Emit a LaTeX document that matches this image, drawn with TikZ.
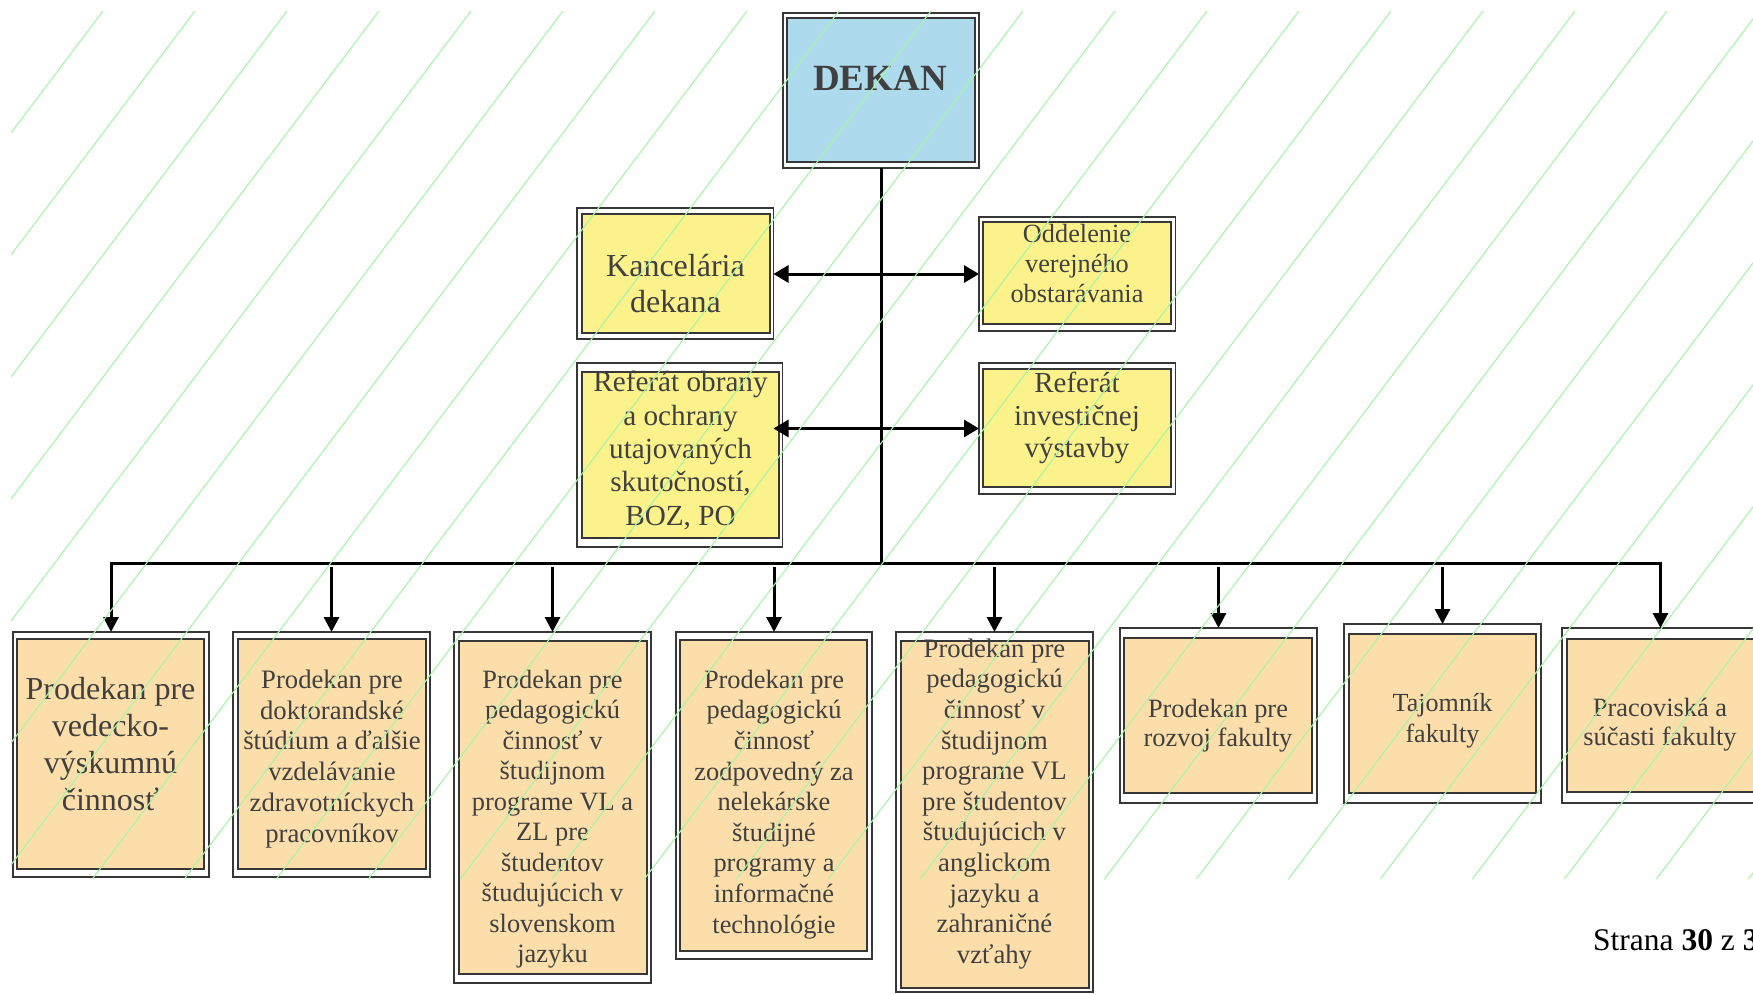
\documentclass[tikz,border=0pt]{standalone}
\usepackage{fontspec}
\setmainfont{Liberation Serif}
\usetikzlibrary{arrows.meta,fit,calc}

\definecolor{boxline}{RGB}{55,55,55}
\definecolor{txtgray}{RGB}{64,64,64}
\definecolor{deanblue}{RGB}{174,218,238}
\definecolor{officeyellow}{RGB}{252,242,140}
\definecolor{vicepeach}{RGB}{252,222,170}
\definecolor{hatchgreen}{RGB}{165,245,165}

\tikzset{
  outerbox/.style={draw=boxline, line width=1.5pt, fill=white, inner sep=0pt, outer sep=0pt},
  innerbox/.style={draw=boxline, line width=2pt, inner sep=0pt, outer sep=0pt},
  boxtext/.style={align=center, text=txtgray, inner sep=0pt},
  fs/.style 2 args={font={\fontsize{#1}{#2}\selectfont}},
  conn/.style={line width=3pt, black},
  downtip/.style={-{Triangle[length=15pt,width=15pt]}},
  bothtips/.style={{Triangle[length=15pt,width=17pt]}-{Triangle[length=15pt,width=17pt]}},
  cornertips/.style={{Triangle[length=15pt,width=15pt]}-{Triangle[length=15pt,width=15pt]}},
  hatch/.style={draw=hatchgreen, line width=1.1pt},
}

\begin{document}
\begin{tikzpicture}[x=1pt, y=-1pt]
\useasboundingbox (0,0) rectangle (1753,994);
\clip (0,0) rectangle (1753,994);

% Dean
\node[outerbox, fit={(783,13)(979,168)}] (dekan) {};
\node[innerbox, fill=deanblue, fit={(787,18)(975,162)}] (dekan-in) {};
\node[boxtext, fs={37}{42}] (dekan-t) at (880,78.5) {\textbf{DEKAN}};

% Offices attached to the dean
\node[outerbox, fit={(577,208)(773.5,339)}] (kanc) {};
\node[innerbox, fill=officeyellow, fit={(581.5,214)(769.5,333)}] (kanc-in) {};
\node[boxtext, fs={32}{36.7}] (kanc-t) at (675.5,283.5) {Kancelária\\dekana};

\node[outerbox, fit={(979,217)(1175.5,331)}] (odd) {};
\node[innerbox, fill=officeyellow, fit={(983,222)(1171,324)}] (odd-in) {};
\node[boxtext, fs={26.3}{30}] (odd-t) at (1077,263) {Oddelenie\\verejného\\obstarávania};

\node[outerbox, fit={(577,363)(782.5,547)}] (refobr) {};
\node[innerbox, fill=officeyellow, fit={(581.5,372)(778.5,538)}] (refobr-in) {};
\node[boxtext, fs={29.2}{33.3}] (refobr-t) at (680.5,450.5) {Referát obrany\\a ochrany\\utajovaných\\skutočností,\\BOZ, PO};

\node[outerbox, fit={(979,363)(1175.5,494)}] (refinv) {};
\node[innerbox, fill=officeyellow, fit={(983,369)(1171,487)}] (refinv-in) {};
\node[boxtext, fs={29}{32.5}] (refinv-t) at (1077,418) {Referát\\investičnej\\výstavby};

% Subordinate units
\node[outerbox, fit={(13,632)(209,877)}] (b1) {};
\node[innerbox, fill=vicepeach, fit={(17,639)(204,869)}] (b1-in) {};
\node[boxtext, fs={32}{36.7}] (b1-t) at (110.5,744) {Prodekan pre\\vedecko-\\výskumnú\\činnosť};

\node[outerbox, fit={(233,632)(430,877)}] (b2) {};
\node[innerbox, fill=vicepeach, fit={(238,639)(426,869)}] (b2-in) {};
\node[boxtext, fs={26.7}{30.8}] (b2-t) at (332,758.8) {Prodekan pre\\doktorandské\\štúdium a ďalšie\\vzdelávanie\\zdravotníckych\\pracovníkov};

\node[outerbox, fit={(454,632)(651,983)}] (b3) {};
\node[innerbox, fill=vicepeach, fit={(459,641)(647,974)}] (b3-in) {};
\node[boxtext, fs={26.4}{30.5}] (b3-t) at (552.5,819.4) {Prodekan pre\\pedagogickú\\činnosť v\\študijnom\\programe VL a\\ZL pre\\študentov\\študujúcich v\\slovenskom\\jazyku};

\node[outerbox, fit={(676,632)(872,959)}] (b4) {};
\node[innerbox, fill=vicepeach, fit={(680,640)(867,951)}] (b4-in) {};
\node[boxtext, fs={26.4}{30.6}] (b4-t) at (774,804.3) {Prodekan pre\\pedagogickú\\činnosť\\zodpovedný za\\nelekárske\\študijné\\programy a\\informačné\\technológie};

\node[outerbox, fit={(896,632)(1093,992)}] (b5) {};
\node[innerbox, fill=vicepeach, fit={(901,641)(1089,988)}] (b5-in) {};
\node[boxtext, fs={26.7}{30.6}] (b5-t) at (994.5,803.9) {Prodekan pre\\pedagogickú\\činnosť v\\študijnom\\programe VL\\pre študentov\\študujúcich v\\anglickom\\jazyku a\\zahraničné\\vzťahy};

\node[outerbox, fit={(1120,628)(1317,803)}] (b6) {};
\node[innerbox, fill=vicepeach, fit={(1124,638)(1312,793)}] (b6-in) {};
\node[boxtext, fs={26.4}{29.3}] (b6-t) at (1218,725.4) {Prodekan pre\\rozvoj fakulty};

\node[outerbox, fit={(1344,624)(1541,803)}] (b7) {};
\node[innerbox, fill=vicepeach, fit={(1349,634)(1536,793)}] (b7-in) {};
\node[boxtext, fs={26.1}{30.7}] (b7-t) at (1442.5,720.4) {Tajomník\\fakulty};

\node[outerbox, fit={(1562,628)(1759,803)}] (b8) {};
\node[innerbox, fill=vicepeach, fit={(1567,639)(1754,792)}] (b8-in) {};
\node[boxtext, fs={26.4}{29}] (b8-t) at (1660,724.4) {Pracoviská a\\súčasti fakulty};

% Connectors
\coordinate (bus) at (881,563);
\draw[conn] (dekan.south) -- (bus);
\draw[conn, bothtips] (kanc.east |- odd.west) -- (odd.west);
\draw[conn, bothtips] (kanc.east |- refinv.west) -- (refinv.west);
\draw[conn, cornertips, line join=miter] (b1.north) -- (b1.north |- bus) -- (b8.north |- bus) -- (b8.north);
\foreach \b in {b2,b3,b4,b5,b6,b7} {
  \draw[conn, downtip] ($(\b.north |- bus)+(0,4)$) -- (\b.north);
}

% Page footer
\node[anchor=base west, inner sep=0pt, font={\fontsize{31.5}{37}\selectfont}] (footer) at (1593,950) {Strana \textbf{30} z \textbf{3}};

% Diagonal background hatching
\begin{scope}
  \clip (11,11) rectangle (1753,879);
  \foreach \k in {0,...,25} {
    \draw[hatch] ({103+92*\k},11) -- ++(-654.6,868);
  }
\end{scope}
\end{tikzpicture}
\end{document}
